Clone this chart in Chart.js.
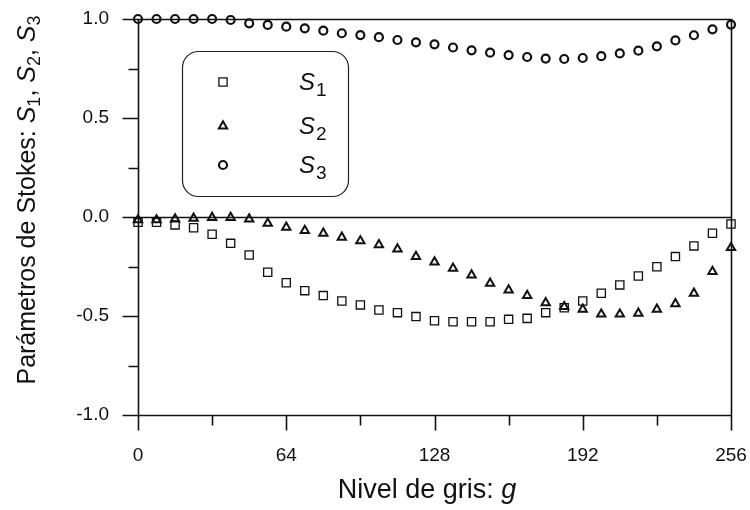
<!DOCTYPE html>
<html>
<head>
<meta charset="utf-8">
<script src="https://cdn.jsdelivr.net/npm/chart.js@4.4.1/dist/chart.umd.min.js"></script>
<style>
  html, body { margin: 0; padding: 0; background: #fff; }
  #wrap { width: 750px; height: 510px; }
</style>
</head>
<body>
<div id="wrap"><canvas id="stokes" width="750" height="510"></canvas></div>
<script>
// nivel de gris g, cada 8
const gris = [0, 8, 16, 24, 32, 40, 48, 56, 64, 72, 80, 88, 96, 104, 112, 120, 128,
  136, 144, 152, 160, 168, 176, 184, 192, 200, 208, 216, 224, 232, 240, 248, 256];

const s1 = [-0.027, -0.027, -0.040, -0.054, -0.087, -0.133, -0.192, -0.279, -0.332, -0.372, -0.397,
  -0.424, -0.444, -0.470, -0.483, -0.503, -0.524, -0.529, -0.529, -0.529, -0.517, -0.512, -0.483,
  -0.458, -0.424, -0.385, -0.343, -0.298, -0.251, -0.200, -0.146, -0.082, -0.035];

const s2 = [-0.015, -0.015, -0.010, -0.007, -0.003, -0.003, -0.010, -0.032, -0.052, -0.069, -0.082,
  -0.103, -0.121, -0.141, -0.162, -0.200, -0.228, -0.259, -0.293, -0.335, -0.369, -0.397, -0.433,
  -0.453, -0.466, -0.491, -0.491, -0.486, -0.466, -0.439, -0.385, -0.276, -0.155];

const s3 = [1.0, 1.0, 1.0, 1.0, 1.0, 0.995, 0.978, 0.970, 0.961, 0.953, 0.941, 0.928, 0.919, 0.908,
  0.894, 0.882, 0.872, 0.856, 0.842, 0.830, 0.818, 0.808, 0.800, 0.798, 0.803, 0.812, 0.826, 0.840,
  0.862, 0.892, 0.918, 0.948, 0.972];

const xTicks = [0, 64, 128, 192, 256];
const yTicks = [-1.0, -0.5, 0.0, 0.5, 1.0];
const serieNames = ['1', '2', '3'];

const FONT = '"Liberation Sans", Arial, sans-serif';
const INK = '#111';

function pts(vals) {
  return gris.map((g, i) => ({ x: g, y: vals[i] }));
}

// frame, ticks, legend and axis titles
const framePlugin = {
  id: 'frame',
  afterDraw(chart) {
    const ctx = chart.ctx;
    const xs = chart.scales.x, ys = chart.scales.y;
    const L = Math.round(xs.getPixelForValue(0)) + 0.5;
    const R = Math.round(xs.getPixelForValue(256)) + 0.5;
    const T = Math.round(ys.getPixelForValue(1)) + 0.5;
    const B = Math.round(ys.getPixelForValue(-1)) + 0.5;
    const Z = Math.round(ys.getPixelForValue(0)) + 0.5;
    ctx.save();
    ctx.strokeStyle = INK;
    ctx.lineWidth = 1.6;
    ctx.beginPath();
    // box
    ctx.moveTo(L, T); ctx.lineTo(R, T); ctx.lineTo(R, B); ctx.lineTo(L, B); ctx.closePath();
    // zero line
    ctx.moveTo(L, Z); ctx.lineTo(R, Z);
    // y ticks
    for (let v = -1; v <= 1.001; v += 0.25) {
      const py = Math.round(ys.getPixelForValue(v)) + 0.5;
      const major = Math.abs(v * 2 - Math.round(v * 2)) < 1e-6;
      ctx.moveTo(L - (major ? 16 : 10), py); ctx.lineTo(L, py);
    }
    // x ticks
    for (let g = 0; g <= 256; g += 32) {
      const px = Math.round(xs.getPixelForValue(g)) + 0.5;
      ctx.moveTo(px, B); ctx.lineTo(px, B + (g % 64 === 0 ? 15 : 10));
    }
    ctx.stroke();

    // legend
    const lx = 182.5, ly = 51.5, lw = 166, lh = 145, r = 16;
    ctx.lineWidth = 1.2;
    ctx.strokeStyle = '#222';
    ctx.beginPath();
    ctx.roundRect(lx, ly, lw, lh, r);
    ctx.stroke();
    const rows = [82, 126, 165];
    chart.data.datasets.forEach((ds, i) => {
      ctx.strokeStyle = ds.borderColor;
      ctx.fillStyle = 'rgba(0,0,0,0)';
      ctx.lineWidth = ds.borderWidth;
      Chart.helpers.drawPoint(ctx, {
        pointStyle: ds.pointStyle, radius: ds.pointRadius, borderWidth: ds.borderWidth, rotation: 0
      }, 223, rows[i]);
      ctx.fillStyle = INK;
      ctx.textBaseline = 'alphabetic';
      ctx.textAlign = 'left';
      ctx.font = 'italic 24px ' + FONT;
      ctx.fillText('S', 299, rows[i] + 8);
      const w = ctx.measureText('S').width;
      ctx.font = '19px ' + FONT;
      ctx.fillText(serieNames[i], 299 + w + 1, rows[i] + 14);
    });

    // x title
    ctx.fillStyle = INK;
    ctx.textBaseline = 'alphabetic';
    const xt1 = 'Nivel de gris: ';
    ctx.font = '27px ' + FONT;
    const w1 = ctx.measureText(xt1).width;
    ctx.font = 'italic 27px ' + FONT;
    const w2 = ctx.measureText('g').width;
    let x0 = 427 - (w1 + w2) / 2;
    ctx.font = '27px ' + FONT;
    ctx.textAlign = 'left';
    ctx.fillText(xt1, x0, 498);
    ctx.font = 'italic 27px ' + FONT;
    ctx.fillText('g', x0 + w1, 498);

    // y title, rotated
    const parts = [
      ['Parámetros de Stokes: ', 'n'],
      ['S', 'i'], ['1', 's'], [', ', 'n'],
      ['S', 'i'], ['2', 's'], [', ', 'n'],
      ['S', 'i'], ['3', 's']
    ];
    const fontOf = k => k === 'i' ? 'italic 25px ' + FONT : (k === 's' ? '18px ' + FONT : '25px ' + FONT);
    let total = 0;
    parts.forEach(p => { ctx.font = fontOf(p[1]); total += ctx.measureText(p[0]).width; });
    ctx.translate(35, 200);
    ctx.rotate(-Math.PI / 2);
    let cx = -total / 2;
    parts.forEach(p => {
      ctx.font = fontOf(p[1]);
      ctx.fillText(p[0], cx, p[1] === 's' ? 5 : 0);
      cx += ctx.measureText(p[0]).width;
    });
    ctx.restore();
  }
};

const base = { showLine: false, borderColor: INK, backgroundColor: 'rgba(0,0,0,0)', clip: false };

new Chart(document.getElementById('stokes').getContext('2d'), {
  type: 'scatter',
  data: {
    datasets: [
      Object.assign({ label: 'S1', data: pts(s1), pointStyle: 'rect', pointRadius: 5.8, borderWidth: 1.3 }, base),
      Object.assign({ label: 'S2', data: pts(s2), pointStyle: 'triangle', pointRadius: 4.8, borderWidth: 2 }, base),
      Object.assign({ label: 'S3', data: pts(s3), pointStyle: 'circle', pointRadius: 4, borderWidth: 2.2 }, base)
    ]
  },
  options: {
    responsive: false,
    animation: false,
    events: [],
    layout: { padding: 0 },
    plugins: { legend: { display: false }, tooltip: { enabled: false } },
    scales: {
      x: {
        type: 'linear', min: 0, max: 256,
        afterFit: s => { s.height = 95; s.paddingLeft = 0; s.paddingRight = 19; },
        afterBuildTicks: s => { s.ticks = xTicks.map(v => ({ value: v })); },
        grid: { display: false, drawTicks: false },
        border: { display: false },
        ticks: { color: INK, padding: 29, font: { family: FONT, size: 19 }, maxRotation: 0 }
      },
      y: {
        type: 'linear', min: -1, max: 1,
        afterFit: s => { s.width = 138; s.paddingTop = 19; s.paddingBottom = 0; },
        afterBuildTicks: s => { s.ticks = yTicks.map(v => ({ value: v })); },
        grid: { display: false, drawTicks: false },
        border: { display: false },
        ticks: { color: INK, padding: 29, font: { family: FONT, size: 19 },
          callback: v => v.toFixed(1) }
      }
    }
  },
  plugins: [framePlugin]
});
</script>
</body>
</html>
